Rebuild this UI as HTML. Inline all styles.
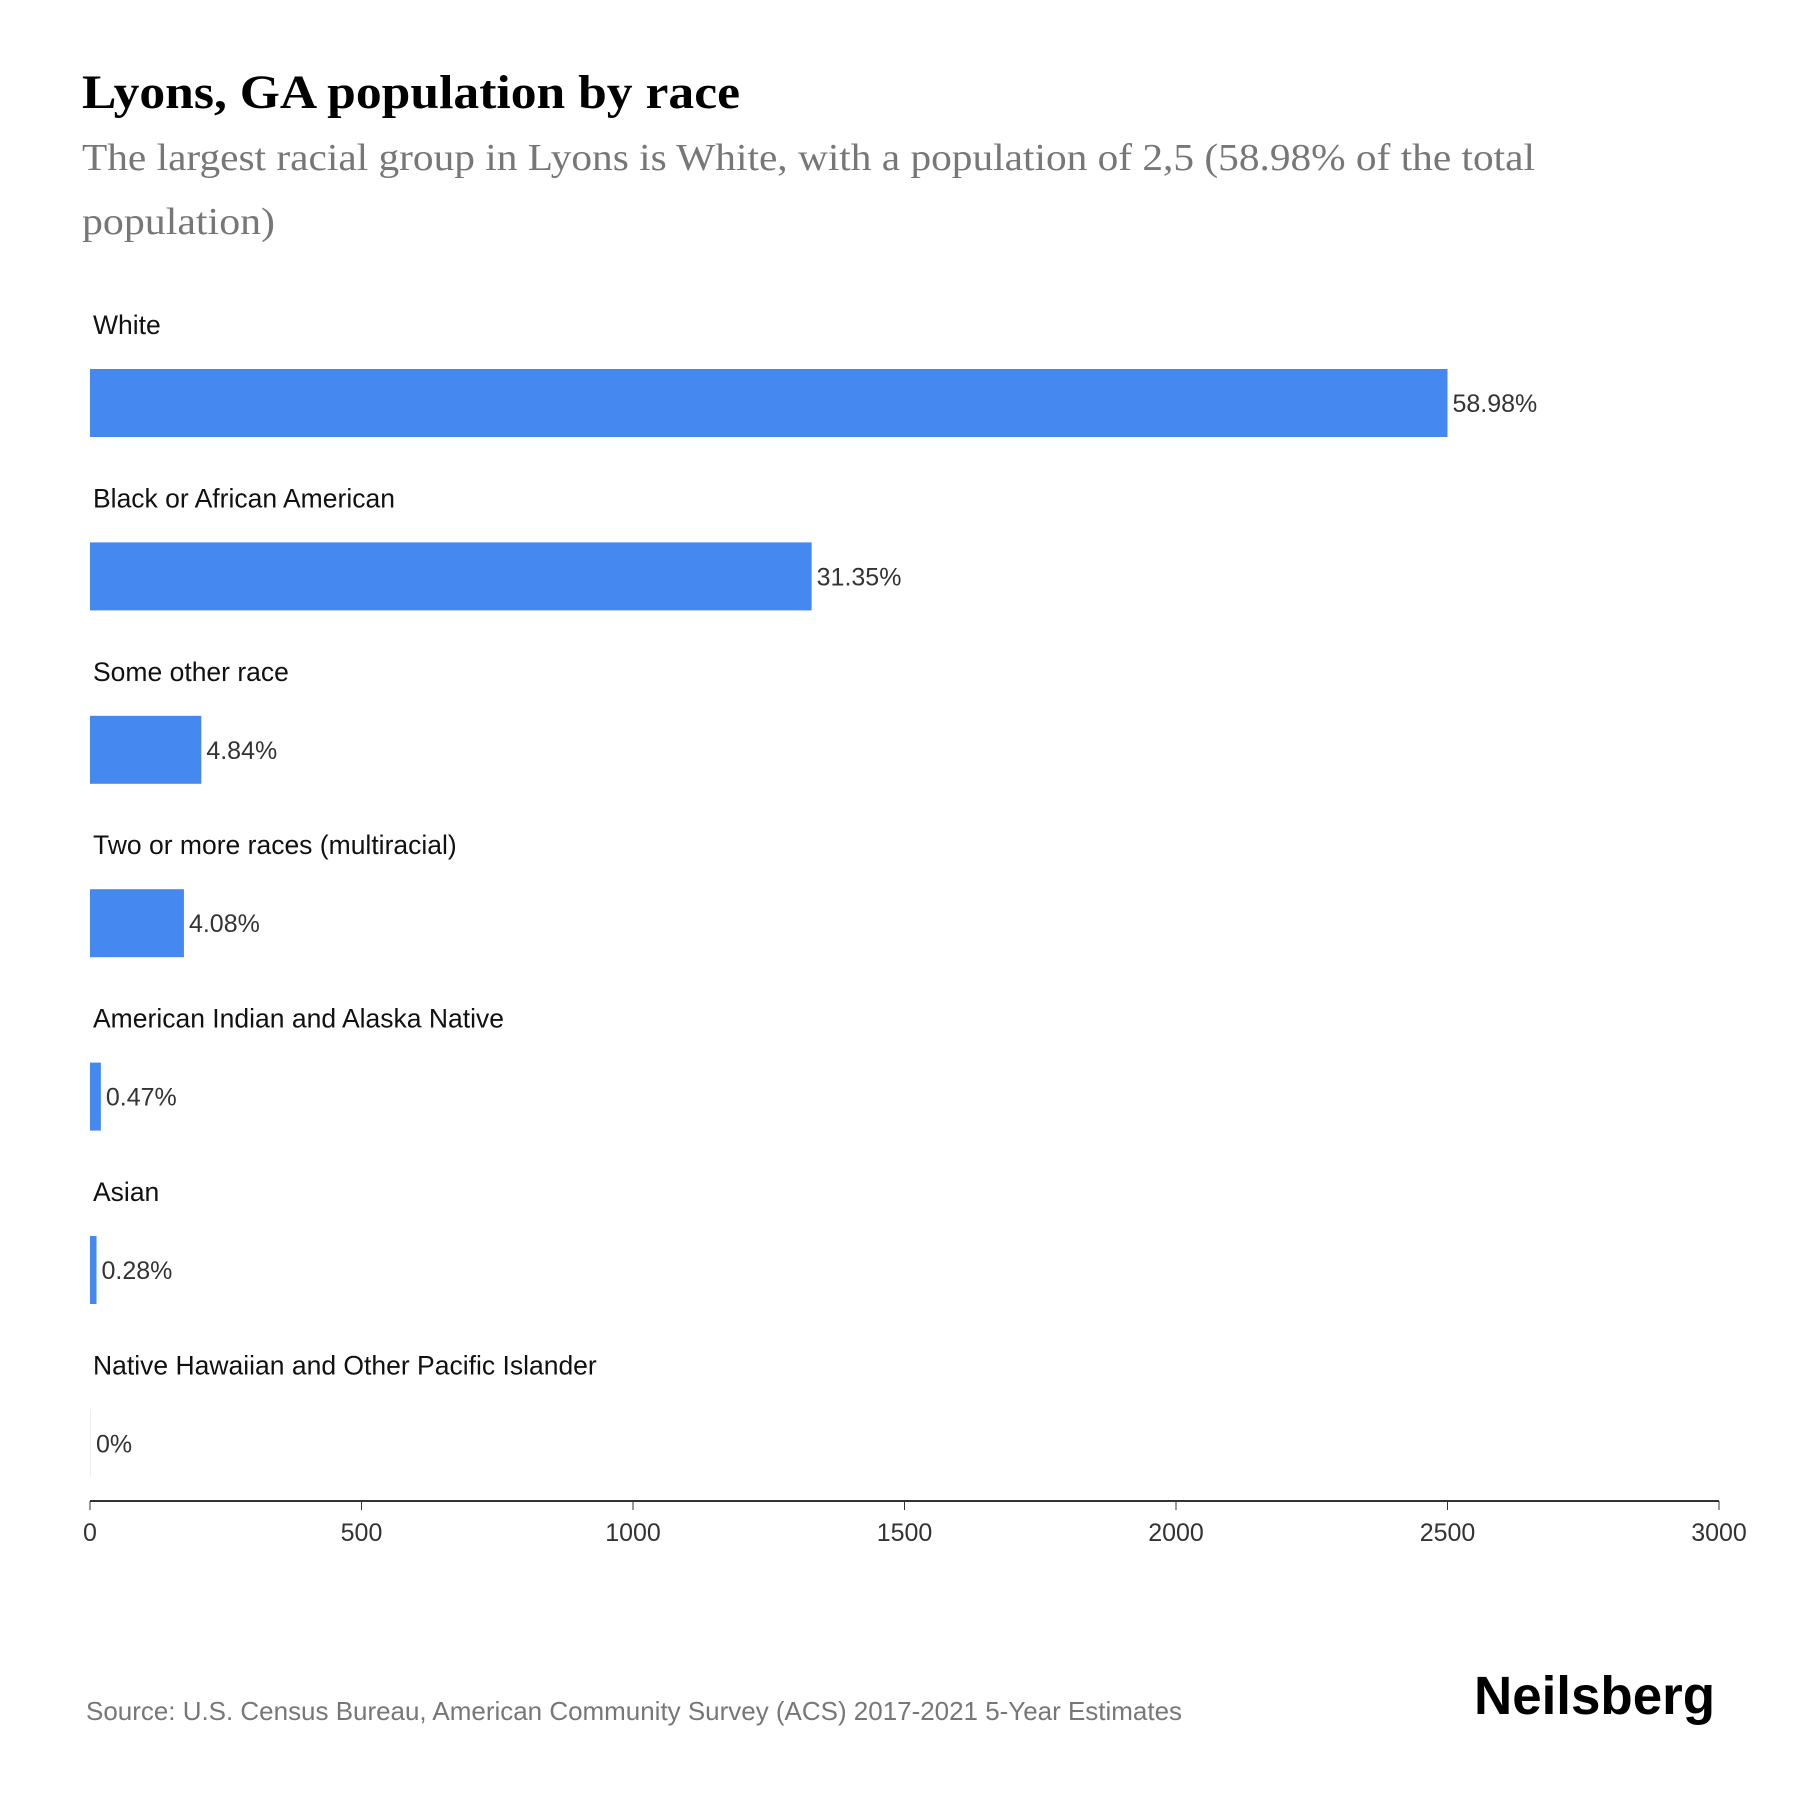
<!DOCTYPE html>
<html><head><meta charset="utf-8"><style>
body{margin:0;background:#fff;width:1800px;height:1800px;overflow:hidden}
svg{display:block}
</style></head><body>
<svg id="chart" width="1800" height="1800" xmlns="http://www.w3.org/2000/svg">
<text x="82" y="108" textLength="658" lengthAdjust="spacingAndGlyphs" font-family="Liberation Serif, serif" font-weight="bold" font-size="48" fill="#000">Lyons, GA population by race</text>
<text x="82" y="170" textLength="1453" lengthAdjust="spacingAndGlyphs" font-family="Liberation Serif, serif" font-size="38" fill="#777">The largest racial group in Lyons is White, with a population of 2,5 (58.98% of the total</text>
<text x="82" y="234" textLength="193" lengthAdjust="spacingAndGlyphs" font-family="Liberation Serif, serif" font-size="38" fill="#777">population)</text>
<g id="bars"></g>
<g id="axis"></g>
<text x="86" y="1720" textLength="1096" lengthAdjust="spacingAndGlyphs" font-family="Liberation Sans, sans-serif" font-size="26" fill="#777">Source: U.S. Census Bureau, American Community Survey (ACS) 2017-2021 5-Year Estimates</text>
<text x="1474" y="1714" textLength="241" lengthAdjust="spacingAndGlyphs" font-family="Liberation Sans, sans-serif" font-weight="bold" font-size="54" fill="#000">Neilsberg</text>
</svg>
<script>
const categories=["White","Black or African American","Some other race","Two or more races (multiracial)","American Indian and Alaska Native","Asian","Native Hawaiian and Other Pacific Islander"];
const values=[2500,1329,205,173,20,12,0];
const pctLabels=["58.98%","31.35%","4.84%","4.08%","0.47%","0.28%","0%"];
const ticks=[0,500,1000,1500,2000,2500,3000];
const NS="http://www.w3.org/2000/svg";
const x0=90,x1=1719,xmax=3000;
function xs(v){return x0+(v/xmax)*(x1-x0);}
function yTop(i){return 369+i*173.4;}
const bars=document.getElementById('bars');
function mk(tag,attrs,parent){const e=document.createElementNS(NS,tag);for(const k in attrs)e.setAttribute(k,attrs[k]);parent.appendChild(e);return e;}
categories.forEach((c,i)=>{
  const y=yTop(i);
  const lab=mk('text',{x:93,y:y-35,'font-family':'Liberation Sans, sans-serif','font-size':'26.5',fill:'#111'},bars);
  lab.textContent=c;
  
  
  const w=Math.max(xs(values[i])-x0,values[i]>0?0:1);
  const r=mk('rect',{x:x0,y:y,width:w,height:68,fill:values[i]>0?'#4589f0':'#eeeeee'},bars);
  
  
  const t=mk('text',{x:x0+w+5,y:y+43,'font-family':'Liberation Sans, sans-serif','font-size':'25',fill:'#333'},bars);
  t.textContent=pctLabels[i];
  
  
});
const axis=document.getElementById('axis');
const line=mk('line',{x1:x0,x2:x1,y1:1501,y2:1501,stroke:'#333','stroke-width':'2'},axis);


ticks.forEach(v=>{
  const tk=mk('line',{x1:xs(v),x2:xs(v),y1:1501,y2:1510,stroke:'#333','stroke-width':'1'},axis);
  
  
  const tl=mk('text',{x:xs(v),y:1541,'text-anchor':'middle','font-family':'Liberation Sans, sans-serif','font-size':'25',fill:'#333'},axis);
  tl.textContent=v;
  
  
});
</script>
</body></html>
